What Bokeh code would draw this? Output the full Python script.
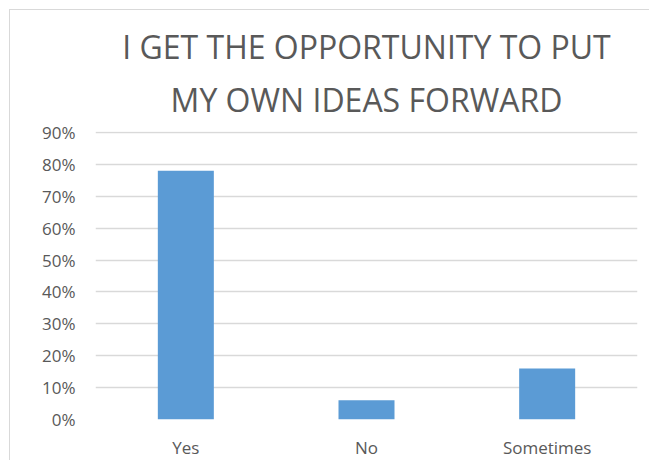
from bokeh.plotting import figure
from bokeh.models import Range1d, FixedTicker, NumeralTickFormatter, Title
from bokeh.embed import file_html
from bokeh.resources import INLINE

categories = ["Yes", "No", "Sometimes"]
values = [0.78, 0.06, 0.16]
y_ticks = [0, 0.1, 0.2, 0.3, 0.4, 0.5, 0.6, 0.7, 0.8, 0.9]
title_lines = ["I GET THE OPPORTUNITY TO PUT", "MY OWN IDEAS FORWARD"]

FONT = "Open Sans"
TXT = "#595959"

p = figure(x_range=categories, y_range=Range1d(0, 0.903),
           width=640, height=451, output_backend="svg", toolbar_location=None,
           min_border_left=85, min_border_right=13, min_border_top=121, min_border_bottom=40)
p.styles = {"border-top": "1px solid #d9d9d9", "border-left": "1px solid #d9d9d9",
            "margin-left": "9px", "margin-top": "9px"}
p.outline_line_color = None
p.background_fill_color = "white"
p.border_fill_color = "white"

p.vbar(x=categories, top=values, width=0.31, color="#5b9bd5", line_color=None)

p.yaxis.ticker = FixedTicker(ticks=y_ticks)
p.yaxis.formatter = NumeralTickFormatter(format="0%")
for ax in (p.xaxis[0], p.yaxis[0]):
    ax.axis_line_color = None
    ax.major_tick_line_color = None
    ax.minor_tick_line_color = None
    ax.major_tick_out = 0
    ax.major_tick_in = 0
    ax.minor_tick_out = 0
    ax.major_label_text_font = FONT
    ax.major_label_text_font_size = "17px"
    ax.major_label_text_color = TXT
p.yaxis.major_label_standoff = 20
p.xaxis.major_label_standoff = 16

p.xgrid.grid_line_color = None
p.ygrid.ticker = FixedTicker(ticks=y_ticks)
p.ygrid.grid_line_color = "#d9d9d9"
p.ygrid.grid_line_width = 1.5

p.title.visible = False
for txt, so, lh in zip(reversed(title_lines), [22, -6], [1.0, 0.85]):
    p.add_layout(Title(text=txt, align="center", text_font=FONT, text_font_size="32px",
                       text_font_style="normal", text_color=TXT, standoff=so,
                       text_line_height=lh), "above")

open("out.html", "w").write(file_html(p, INLINE))
